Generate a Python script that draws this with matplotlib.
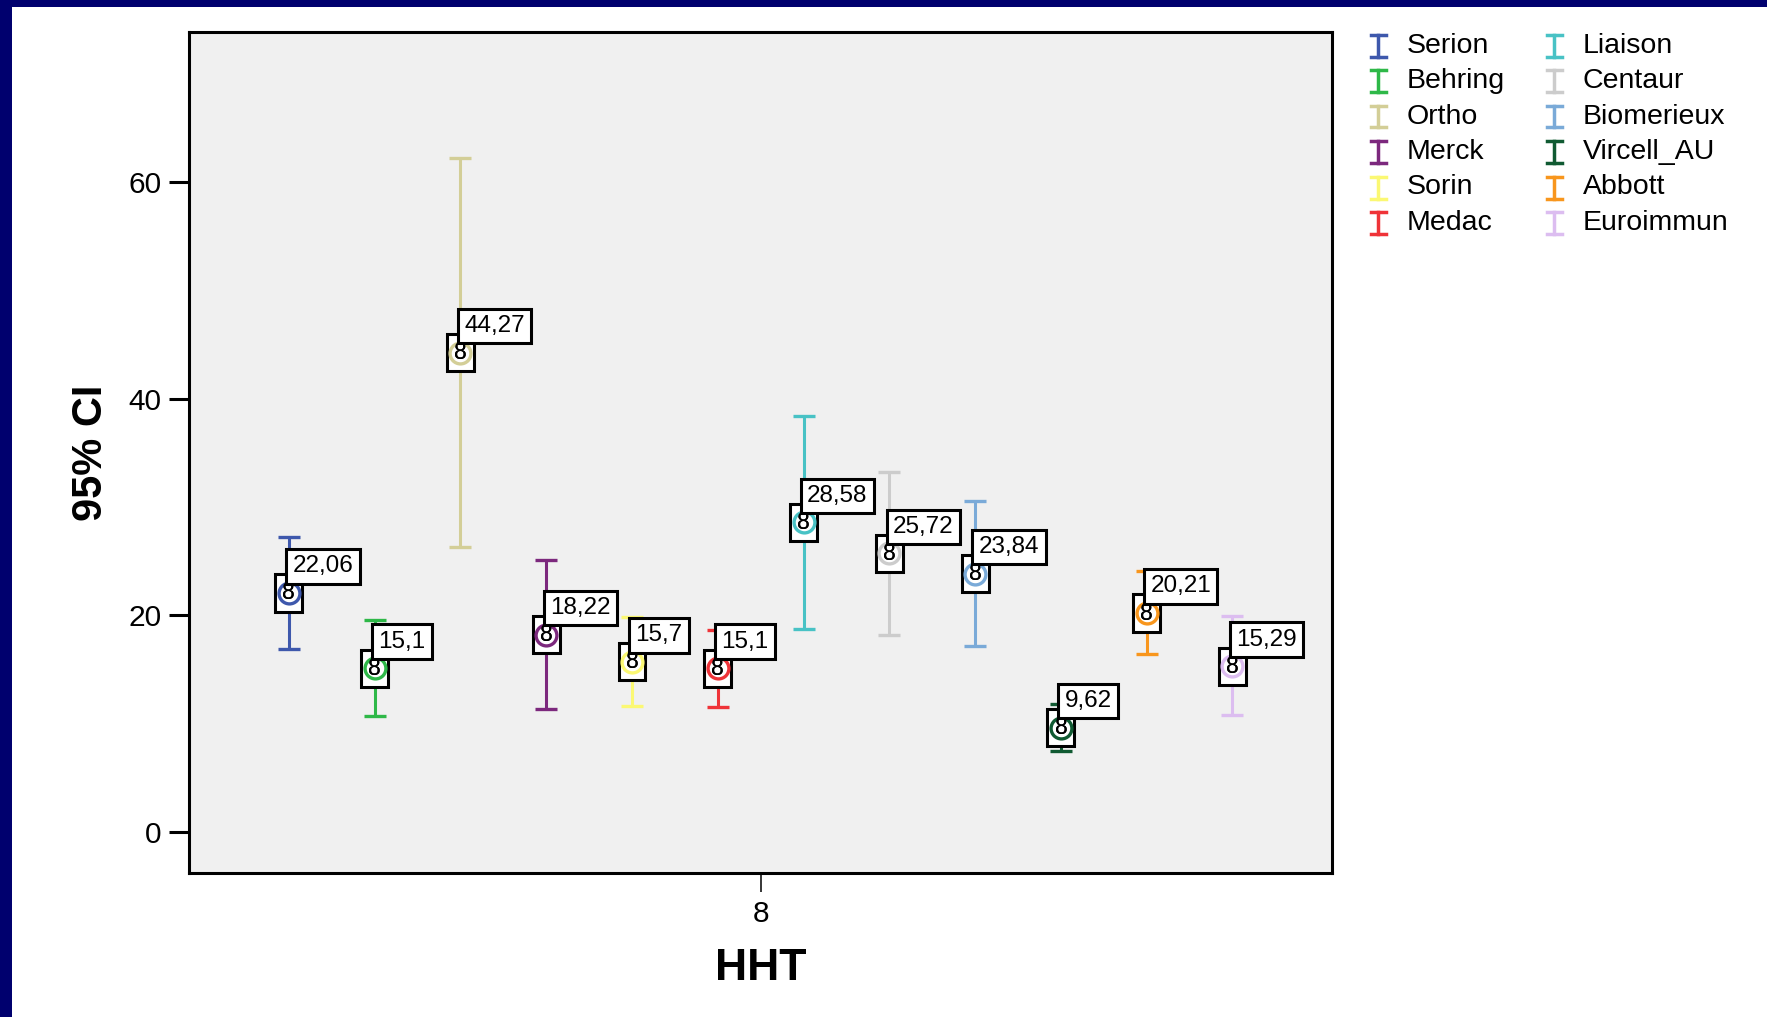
import matplotlib.pyplot as plt
from matplotlib.lines import Line2D
from matplotlib.patches import Rectangle

plt.rcParams['font.family'] = ['Liberation Sans', 'DejaVu Sans']

# datos (HHT, IC 95%)
ensayos = ['Serion', 'Behring', 'Ortho', 'Merck', 'Sorin', 'Medac',
           'Liaison', 'Centaur', 'Biomerieux', 'Vircell_AU', 'Abbott', 'Euroimmun']
medias = [22.06, 15.1, 44.27, 18.22, 15.7, 15.1, 28.58, 25.72, 23.84, 9.62, 20.21, 15.29]
ic_inf = [16.89, 10.69, 26.34, 11.37, 11.62, 11.55, 18.73, 18.21, 17.17, 7.49, 16.39, 10.76]
ic_sup = [27.26, 19.57, 62.29, 25.11, 19.87, 18.64, 38.45, 33.27, 30.56, 11.77, 24.12, 19.93]
n_casos = [8, 8, 8, 8, 8, 8, 8, 8, 8, 8, 8, 8]
colores = ['#3e58ac', '#2eb848', '#d3ce97', '#7c287d', '#fbf873', '#ef3338',
           '#48c2c5', '#cccccc', '#7aaad8', '#105a32', '#f8961d', '#dcbdf0']
categoria = '8'

W, H = 1767, 1017
fig = plt.figure(figsize=(W / 100, H / 100), dpi=100, facecolor='#00006e')
fig.add_artist(Rectangle((12 / W, 0), 1 - 12 / W, 1 - 7 / H, transform=fig.transFigure,
                         facecolor='white', edgecolor='none', zorder=0))

ax = fig.add_axes([188.5 / W, (H - 872.5) / H, (1332 - 188.5) / W, (872.5 - 31.6) / H])
ax.set_facecolor('#f0f0f0')

k = len(ensayos)
for i in range(k):
    x = i - (k - 1) / 2
    m = medias[i]
    c = colores[i]
    ax.errorbar([x], [m], yerr=[[m - ic_inf[i]], [ic_sup[i] - m]], fmt='none',
                ecolor=c, elinewidth=2.2, capsize=7.8, capthick=2.4, zorder=2)
    ax.text(x, m, str(n_casos[i]), ha='center', va='center', fontsize=16.5,
            bbox=dict(boxstyle='square,pad=0.31', fc='white', ec='black', lw=2.2), zorder=3)
    ax.plot([x], [m], 'o', mfc='none', mec=c, ms=15, mew=2.4, zorder=4)
    ax.text(x, m, str(n_casos[i]), ha='center', va='center', fontsize=16.5, zorder=5)
    ax.annotate(str(m).replace('.', ','), (x, m), xytext=(2.6, 11.2),
                textcoords='offset points', ha='left', va='bottom', fontsize=17.5,
                bbox=dict(boxstyle='square,pad=0.26', fc='white', ec='black', lw=2.2),
                zorder=6)

ax.set_xlim(-6.67, 6.66)
ax.set_ylim(-3.77, 73.94)
ax.set_xticks([0])
ax.set_xticklabels([categoria])
ax.set_yticks([0, 20, 40, 60])
ax.tick_params(axis='y', labelsize=21.5, length=14.4, width=2.2, pad=5)
ax.tick_params(axis='x', labelsize=21.5, length=13.7, width=1.1, pad=6)
for s in ax.spines.values():
    s.set_linewidth(2.2)

ax.set_xlabel('HHT', fontsize=32, fontweight='bold', va='center')
ax.xaxis.set_label_coords(0.5, -0.1136)
ax.set_ylabel('95% CI', fontsize=30, fontweight='bold', va='center')
ax.yaxis.set_label_coords(-0.0854, 0.4988)

# leyenda dibujada a mano con el simbolo "I"
for i, nombre in enumerate(ensayos):
    col, fila = divmod(i, 6)
    xm = 1378 + col * 176
    ym = 45.5 + fila * 35.5
    c = colores[i]
    fx = lambda p: p / W
    fy = lambda p: 1 - p / H
    fig.add_artist(Line2D([fx(xm), fx(xm)], [fy(ym - 11), fy(ym + 11)], color=c, lw=2.5,
                          transform=fig.transFigure))
    for yy in (ym - 11, ym + 11):
        fig.add_artist(Line2D([fx(xm - 7.5), fx(xm + 7.5)], [fy(yy), fy(yy)], color=c, lw=2.5,
                              transform=fig.transFigure))
    fig.text(fx(xm + 28.5), fy(ym), nombre, fontsize=20.5, ha='left', va='center')

fig.savefig('out.png', dpi=100, facecolor=fig.get_facecolor())
